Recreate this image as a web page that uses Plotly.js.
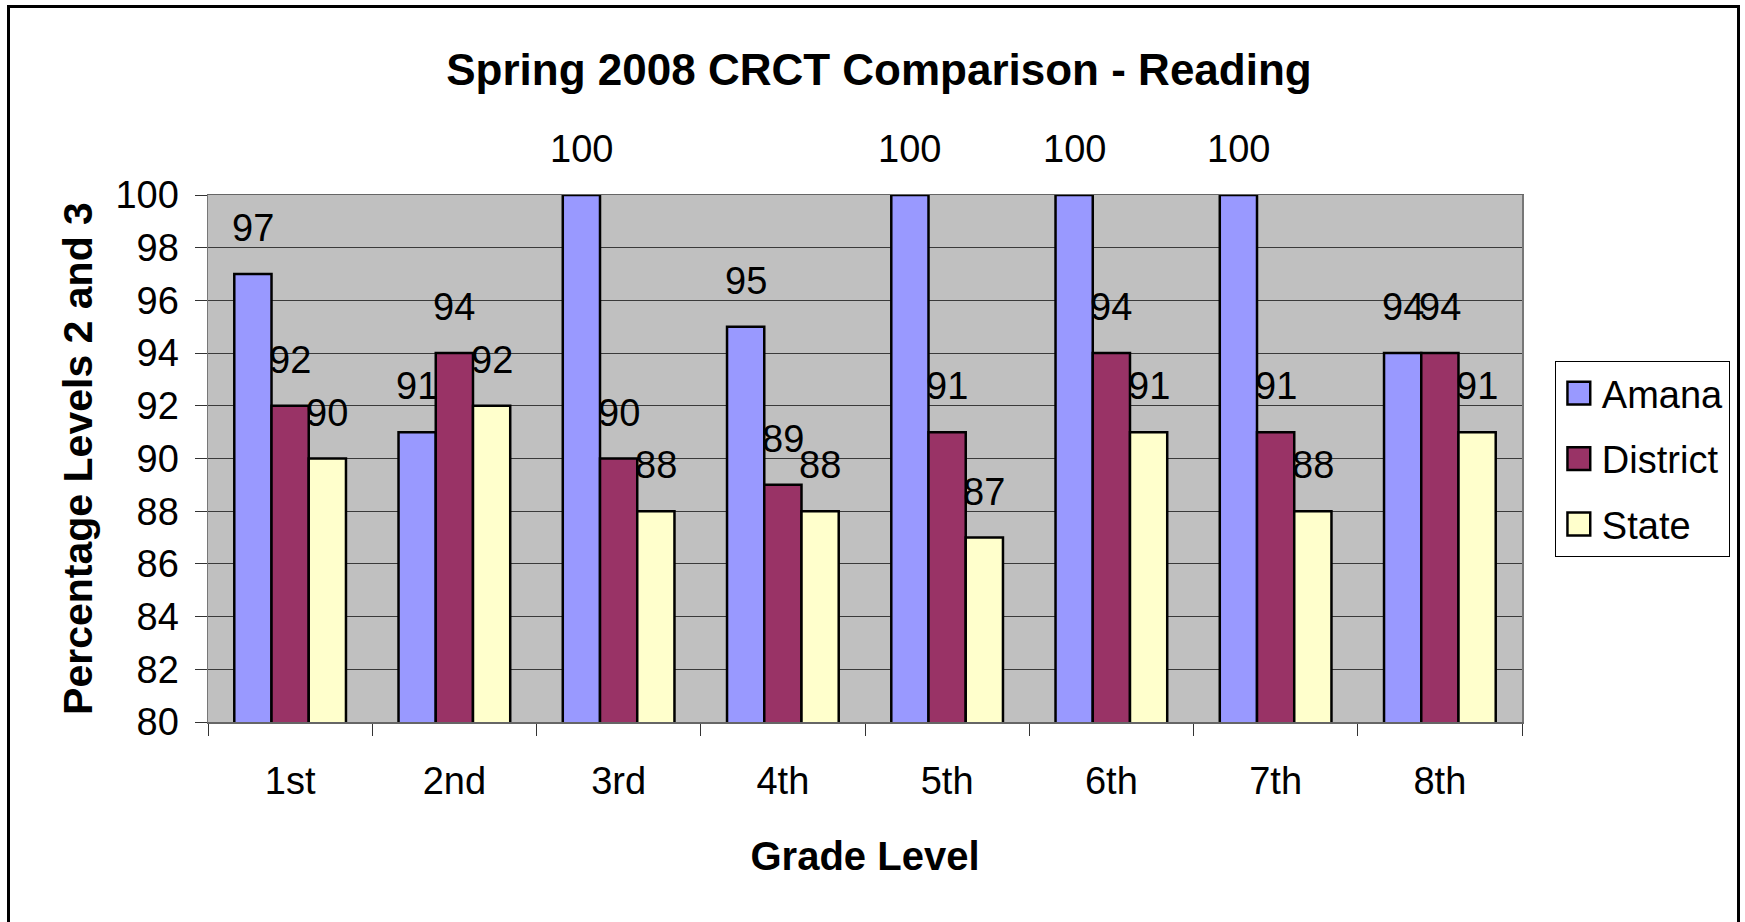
<!DOCTYPE html>
<html>
<head>
<meta charset="utf-8">
<script src="https://cdn.plot.ly/plotly-3.0.1.min.js"></script>
<style>
  html, body { margin: 0; padding: 0; background: #ffffff; }
  #wrap { position: relative; width: 1745px; height: 922px; overflow: hidden; }
  #chart { position: absolute; left: 0; top: 0; width: 1745px; height: 922px; }
  #frame { position: absolute; left: 7px; top: 5px; width: 1733px; height: 930px;
           border: 3px solid #000; box-sizing: border-box; pointer-events: none; }
</style>
</head>
<body>
<div id="wrap">
  <div id="chart"></div>
  <div id="frame"></div>
</div>
<script>
const categories = ['1st', '2nd', '3rd', '4th', '5th', '6th', '7th', '8th'];
const seriesNames = ['Amana', 'District', 'State'];
const amana    = [97, 91, 100, 95, 100, 100, 100, 94];
const district = [92, 94, 90, 89, 91, 94, 91, 94];
const state    = [90, 92, 88, 88, 87, 91, 88, 91];
const yTickVals = [80, 82, 84, 86, 88, 90, 92, 94, 96, 98, 100];

const FONT = 'Liberation Sans, Arial, Helvetica, sans-serif';
const colors = ['#9999FF', '#993366', '#FFFFCC'];
const seriesValues = [amana, district, state];
const BARGAP = 0.32;
const barW = (1 - BARGAP) / 3;

const traces = seriesValues.map((vals, i) => ({
  type: 'bar',
  name: seriesNames[i],
  x: categories,
  y: vals,
  legendgroup: 'g' + i,
  marker: { color: colors[i], line: { color: '#000000', width: 2.5 } },
  hoverinfo: 'skip'
}));

const annotations = [];
seriesValues.forEach((vals, i) => {
  vals.forEach((v, j) => {
    annotations.push({
      x: j + (i - 1) * barW,
      y: v,
      xref: 'x', yref: 'y',
      text: String(v),
      showarrow: false,
      xanchor: 'center', yanchor: 'middle',
      yshift: 46,
      font: { family: FONT, size: 38, color: '#000000' }
    });
  });
});

const layout = {
  width: 1745, height: 922,
  margin: { l: 208, r: 223, t: 195, b: 200 },
  paper_bgcolor: 'rgba(0,0,0,0)',
  plot_bgcolor: '#C0C0C0',
  barmode: 'group',
  bargap: BARGAP,
  bargroupgap: 0,
  showlegend: true,
  title: {
    text: '<b>Spring 2008 CRCT Comparison - Reading</b>',
    font: { family: FONT, size: 44, color: '#000000' },
    xref: 'container', x: 0.5037, xanchor: 'center',
    yref: 'container', y: 0.925, yanchor: 'middle'
  },
  xaxis: {
    type: 'category',
    tickson: 'boundaries',
    ticks: 'outside', ticklen: 12, tickcolor: '#333333', tickwidth: 1,
    showline: true, linecolor: '#666666', linewidth: 1.5, mirror: true,
    showgrid: false, zeroline: false,
    tickfont: { family: FONT, size: 38, color: '#000000' },
    ticklabelstandoff: 25,
    title: { text: '<b>Grade Level</b>', font: { family: FONT, size: 40, color: '#000000' }, standoff: 41 },
    fixedrange: true
  },
  yaxis: {
    range: [80, 100],
    tickmode: 'array', tickvals: yTickVals, ticktext: yTickVals.map(String),
    ticks: 'outside', ticklen: 12, tickcolor: '#333333', tickwidth: 1,
    showline: true, linecolor: '#777777', linewidth: 1.5, mirror: true,
    showgrid: true, gridcolor: '#3a3a3a', gridwidth: 1,
    zeroline: false,
    tickfont: { family: FONT, size: 38, color: '#000000' },
    ticklabelstandoff: 8,
    title: { text: '<b>Percentage Levels 2 and 3</b>', font: { family: FONT, size: 41, color: '#000000' }, standoff: 10 },
    fixedrange: true
  },
  legend: {
    x: 1.025, xanchor: 'left', xref: 'paper',
    y: 0.685, yanchor: 'top', yref: 'paper',
    bgcolor: '#FFFFFF', bordercolor: '#000000', borderwidth: 1,
    font: { family: FONT, size: 38, color: '#000000' },
    tracegroupgap: 13,
    traceorder: 'grouped',
    itemwidth: 36
  },
  annotations: annotations,
  hovermode: false
};

Plotly.newPlot('chart', traces, layout, { displayModeBar: false, staticPlot: true }).then(() => {
  document.querySelectorAll('#chart .legendpoints path').forEach(p => {
    const t = p.getAttribute('transform') || '';
    p.setAttribute('transform', t + ' scale(1.9)');
    p.style.strokeWidth = '1.3px';
  });
});
</script>
</body>
</html>
